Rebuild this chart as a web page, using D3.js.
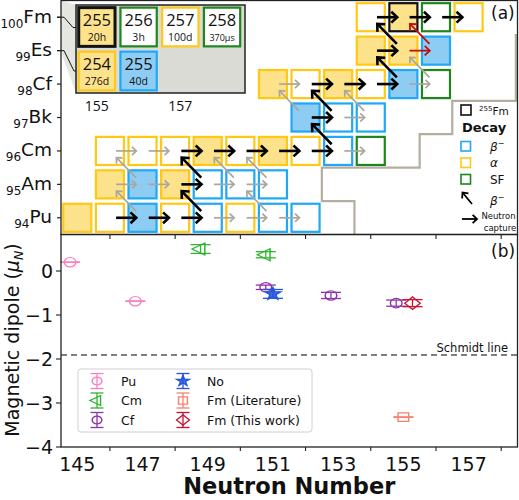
<!DOCTYPE html>
<html lang="en">
<head>
<meta charset="utf-8">
<title>Fm magnetic dipole</title>
<script src="https://d3js.org/d3.v7.min.js"></script>
<style>
  body { margin: 0; background: #fff; }
  svg text { font-family: "DejaVu Sans", sans-serif; fill: #111; }
</style>
</head>
<body>
<svg id="chart" width="519" height="500"></svg>
<script>
// ---------- panel (a) data ----------
const elements = ["Pu", "Am", "Cm", "Bk", "Cf", "Es", "Fm"];
const protonZ = [94, 95, 96, 97, 98, 99, 100];

// [Z, N, decay, filled]
const nuclides = [
  [94,145,"a",1],[94,146,"a",0],[94,147,"b",1],[94,148,"a",0],[94,149,"b",0],[94,150,"a",0],[94,151,"b",0],[94,152,"b",0],
  [95,146,"a",1],[95,147,"b",1],[95,148,"a",1],[95,149,"b",0],[95,150,"b",0],[95,151,"b",0],
  [96,146,"a",0],[96,147,"a",0],[96,148,"a",0],[96,149,"a",1],[96,150,"a",0],[96,151,"a",1],[96,152,"a",0],[96,153,"b",0],[96,154,"sf",0],
  [97,152,"b",1],[97,153,"b",0],[97,154,"b",0],
  [98,151,"a",1],[98,152,"a",0],[98,153,"a",1],[98,154,"a",0],[98,155,"b",1],[98,156,"sf",0],
  [99,154,"a",1],[99,155,"a",1],[99,156,"b",1],
  [100,154,"a",0],[100,155,"a",1],[100,156,"sf",0],[100,157,"a",0]
];

// neutron capture (Z, N -> N+1, colour key)
const captures = [
  [94,146,"k"],[94,147,"k"],[94,148,"k"],[94,149,"g"],[94,150,"g"],[94,151,"g"],
  [95,146,"g"],[95,147,"g"],[95,148,"k"],[95,149,"g"],[95,150,"g"],
  [96,146,"g"],[96,147,"g"],[96,148,"k"],[96,149,"k"],[96,150,"k"],[96,151,"k"],[96,152,"k"],[96,153,"g"],
  [97,152,"k"],[97,153,"g"],
  [98,151,"g"],[98,152,"k"],[98,153,"k"],[98,154,"k"],[98,155,"g"],
  [99,154,"k"],[99,155,"r"],
  [100,154,"k"],[100,155,"k"],[100,156,"k"]
];

// beta- decay (Z, N) -> (Z+1, N-1)
const betaDecays = [
  [94,147,"g"],[94,149,"k"],[94,151,"g"],
  [95,147,"g"],[95,149,"k"],[95,150,"g"],[95,151,"g"],
  [96,153,"k"],
  [97,152,"g"],[97,153,"k"],[97,154,"g"],
  [98,155,"k"],[98,156,"g"],
  [99,155,"k"],[99,156,"r"]
];

// boundary of known region
const boundaryN = [158.45, 158.45, 156.5, 156.5, 155.5, 155.5, 152.5, 152.5, 153.5, 153.5];
const boundaryZ = [99.5, 97.5, 97.5, 96.5, 96.5, 95.5, 95.5, 94.5, 94.5, 93.5];

// inset
const insetZ = [100, 100, 100, 100, 99, 99];
const insetN = [155, 156, 157, 158, 155, 156];
const insetMass = ["255", "256", "257", "258", "254", "255"];
const insetHalfLife = ["20h", "3h", "100d", "370μs", "276d", "40d"];
const insetDecay = ["a", "sf", "a", "sf", "a", "b"];
const insetFilled = [1, 0, 0, 0, 1, 1];
const insetTicks = [155, 157];

// ---------- panel (b) data ----------
const seriesNames = ["Pu", "Cm", "Cf", "No", "Fm (Literature)", "Fm (This work)"];
const puN = [145, 147], puMu = [0.20, -0.685], puErr = [0.005, 0.005];
const cmN = [149, 151], cmMu = [0.50, 0.37], cmErr = [0.10, 0.07];
const cfN = [151, 153, 155], cfMu = [-0.37, -0.555, -0.73], cfErr = [0.05, 0.07, 0.07];
const noN = [151], noMu = [-0.52], noErr = [0.10];
const fmLitN = [155], fmLitMu = [-3.32], fmLitErr = [0.005];
const fmNewN = [155], fmNewMu = [-0.73], fmNewErr = [0.08];
const schmidt = -1.91;
const xTickLabels = [145, 147, 149, 151, 153, 155, 157];
const yTickLabels = [0, -1, -2, -3, -4];

// ---------- styles ----------
const decayStroke = { a: "#ffc814", b: "#1ea8f5", sf: "#1d861d" };
const decayFill = { a: "#fde28c", b: "#8dcdf3", sf: "#ffffff" };
const arrowStyle = {
  k: { c: "#000", w: 2.6, h: 8 },
  g: { c: "#aaa69b", w: 1.7, h: 6 },
  r: { c: "#c00d0d", w: 1.8, h: 7 }
};
const seriesColors = ["#f781bf", "#2fb52f", "#8d33ad", "#2352dc", "#f8806e", "#cc1030"];
const seriesMarkers = ["circle", "triLeft", "circle", "star", "square", "diamond"];
const seriesShift = [-0.22, -0.22, -0.22, 0, 0, 0.28];
const seriesData = [
  [puN, puMu, puErr], [cmN, cmMu, cmErr], [cfN, cfMu, cfErr],
  [noN, noMu, noErr], [fmLitN, fmLitMu, fmLitErr], [fmNewN, fmNewMu, fmNewErr]
];

const svg = d3.select("#chart");

const x = d3.scaleLinear().domain([144.5, 158.5]).range([61, 517.5]);
const yTop = d3.scaleLinear().domain([93.5, 100.5]).range([234.5, 0.5]);
const yBot = d3.scaleLinear().domain([-4, 0.83]).range([447, 234.5]);

const bw = (x(1) - x(0)) * 0.86;
const bh = (yTop(0) - yTop(1)) * 0.84;

// ---------- panel (a) ----------
const panelA = svg.append("g");

panelA.selectAll("rect.nuc")
  .data(nuclides)
  .enter()
  .append("rect")
  .attr("class", "nuc")
  .attr("x", d => x(d[1]) - bw / 2)
  .attr("y", d => yTop(d[0]) - bh / 2)
  .attr("width", bw)
  .attr("height", bh)
  .attr("fill", d => d[3] ? decayFill[d[2]] : "#fff")
  .attr("stroke", d => (d[0] === 100 && d[1] === 155) ? "#111" : decayStroke[d[2]])
  .attr("stroke-width", 2.2);

function arrow(g, x1, y1, x2, y2, st) {
  const ang = Math.atan2(y2 - y1, x2 - x1);
  const a1 = ang + Math.PI - 0.75, a2 = ang + Math.PI + 0.75;
  g.append("line")
    .attr("x1", x1).attr("y1", y1).attr("x2", x2).attr("y2", y2)
    .attr("stroke", st.c).attr("stroke-width", st.w);
  g.append("path")
    .attr("d", `M${x2 + st.h * Math.cos(a1)},${y2 + st.h * Math.sin(a1)}L${x2},${y2}L${x2 + st.h * Math.cos(a2)},${y2 + st.h * Math.sin(a2)}`)
    .attr("fill", "none").attr("stroke", st.c).attr("stroke-width", st.w)
    .attr("stroke-linejoin", "miter");
}

function drawArrows(key) {
  captures.filter(d => d[2] === key).forEach(d => {
    const cy = yTop(d[0]);
    const xa = x(d[1]), xb = x(d[1] + 1), m = (xa + xb) / 2, hl = (xb - xa) * 0.31;
    arrow(panelA, m - hl, cy, m + hl, cy, arrowStyle[key]);
  });
  betaDecays.filter(d => d[2] === key).forEach(d => {
    const xa = x(d[1]), ya = yTop(d[0]), xb = x(d[1] - 1), yb = yTop(d[0] + 1);
    const mx = (xa + xb) / 2, my = (ya + yb) / 2;
    const f = 0.3;
    arrow(panelA, mx + (xa - xb) * f, my + (ya - yb) * f, mx - (xa - xb) * f, my - (ya - yb) * f, arrowStyle[key]);
  });
}
drawArrows("g");
drawArrows("k");
drawArrows("r");

// boundary line
panelA.append("path")
  .attr("d", d3.line()(boundaryN.map((n, i) => [x(n), yTop(boundaryZ[i])])))
  .attr("fill", "none")
  .attr("stroke", "#b3ae9f")
  .attr("stroke-width", 2.2);

// inset with connector
panelA.append("polygon")
  .attr("points", "61,0.5 76,5 76,93 61,52")
  .attr("fill", "#e6e6e1");
panelA.append("polyline")
  .attr("points", `57,${yTop(100)} 64,${yTop(100)} 73,27.5 77,27.5`)
  .attr("fill", "none").attr("stroke", "#111").attr("stroke-width", 1);
panelA.append("polyline")
  .attr("points", `57,${yTop(99)} 64,${yTop(99)} 74,71 77,71`)
  .attr("fill", "none").attr("stroke", "#111").attr("stroke-width", 1);

const xi = d3.scaleLinear().domain([154.5, 158.55]).range([76, 245]);
const yi = d3.scaleLinear().domain([98.5, 100.5]).range([93, 5]);
const ibw = (xi(1) - xi(0)) * 0.87;
const ibh = (yi(0) - yi(1)) * 0.88;

panelA.append("rect")
  .attr("x", 76).attr("y", 5).attr("width", 169).attr("height", 88)
  .attr("fill", "#dbdbd6").attr("stroke", "#222").attr("stroke-width", 1.5);

const cells = panelA.selectAll("g.icell")
  .data(insetMass.map((m, i) => i))
  .enter()
  .append("g")
  .attr("class", "icell")
  .attr("transform", i => `translate(${xi(insetN[i])},${yi(insetZ[i])})`);

cells.append("rect")
  .attr("x", -ibw / 2).attr("y", -ibh / 2)
  .attr("width", ibw).attr("height", ibh)
  .attr("fill", i => insetFilled[i] ? decayFill[insetDecay[i]] : "#fff")
  .attr("stroke", i => i === 0 ? "#111" : decayStroke[insetDecay[i]])
  .attr("stroke-width", i => i === 0 ? 3 : 2.2);

cells.append("text")
  .attr("text-anchor", "middle")
  .attr("y", -1)
  .style("font-family", "'Open Sans', 'DejaVu Sans', sans-serif")
  .style("font-size", "16.5px")
  .text(i => insetMass[i]);

cells.append("text")
  .attr("text-anchor", "middle")
  .attr("y", 14)
  .style("font-family", "'Open Sans', 'DejaVu Sans', sans-serif")
  .style("font-size", i => insetHalfLife[i].length > 4 ? "9px" : "10.5px")
  .text(i => insetHalfLife[i]);

panelA.selectAll("text.itick")
  .data(insetTicks)
  .enter()
  .append("text")
  .attr("class", "itick")
  .attr("x", d => xi(d))
  .attr("y", 111)
  .attr("text-anchor", "middle")
  .style("font-family", "'Open Sans', 'DejaVu Sans', sans-serif")
  .style("font-size", "14px")
  .text(d => d);

// y labels with proton numbers
panelA.selectAll("line.ytick")
  .data(protonZ)
  .enter()
  .append("line")
  .attr("x1", 57).attr("x2", 61)
  .attr("y1", d => yTop(d)).attr("y2", d => yTop(d))
  .attr("stroke", "#222").attr("stroke-width", 1.2);

const ylab = panelA.selectAll("text.ylab")
  .data(protonZ)
  .enter()
  .append("text")
  .attr("class", "ylab")
  .attr("x", 52)
  .attr("y", d => yTop(d) + 5.5)
  .attr("text-anchor", "end");
ylab.append("tspan")
  .attr("dy", 5)
  .style("font-size", "12px")
  .text(d => d);
ylab.append("tspan")
  .attr("dy", -5)
  .style("font-size", "18.5px")
  .text((d, i) => elements[i]);

// panel (a) legend
const lg = panelA.append("g");
lg.append("rect").attr("x", 461).attr("y", 105).attr("width", 10).attr("height", 10)
  .attr("fill", "#fff").attr("stroke", "#111").attr("stroke-width", 1.6);
const fmLab = lg.append("text").attr("x", 479).attr("y", 115);
fmLab.append("tspan").attr("dy", -4).style("font-size", "7px").text("255");
fmLab.append("tspan").attr("dy", 4).style("font-size", "10.5px").text("Fm");
lg.append("text").attr("x", 462).attr("y", 132)
  .style("font-size", "13px").style("font-weight", "bold").text("Decay");

const legendKeys = ["b", "a", "sf"];
const legendText = ["β", "α", "SF"];
legendKeys.forEach((k, i) => {
  const yy = 146 + i * 16.5;
  lg.append("rect").attr("x", 461).attr("y", yy - 4.5).attr("width", 9.5).attr("height", 9.5)
    .attr("fill", "#fff").attr("stroke", decayStroke[k]).attr("stroke-width", 1.6);
  const t = lg.append("text").attr("x", 490).attr("y", yy + 4.5).style("font-size", "12px");
  t.append("tspan").style("font-style", k === "sf" ? "normal" : "italic").text(legendText[i]);
  if (k === "b") t.append("tspan").attr("dy", -5).style("font-size", "8px").text("−");
});
arrow(lg, 472, 204, 462.5, 192.5, { c: "#000", w: 1.8, h: 6 });
const bl = lg.append("text").attr("x", 490).attr("y", 205).style("font-size", "12px");
bl.append("tspan").style("font-style", "italic").text("β");
bl.append("tspan").attr("dy", -5).style("font-size", "8px").text("−");
arrow(lg, 462, 219, 477, 219, { c: "#000", w: 1.8, h: 6 });
lg.append("text").attr("x", 498.5).attr("y", 218.5).attr("text-anchor", "middle")
  .style("font-size", "8.5px").text("Neutron");
lg.append("text").attr("x", 500).attr("y", 231).attr("text-anchor", "middle")
  .style("font-size", "8.5px").text("capture");

panelA.append("text").attr("x", 491).attr("y", 19).style("font-size", "17px").text("(a)");

// frame (a)
panelA.append("rect")
  .attr("x", 61).attr("y", 0.5).attr("width", x.range()[1] - 61).attr("height", 234)
  .attr("fill", "none").attr("stroke", "#222").attr("stroke-width", 1.3);

// ---------- panel (b) ----------
const panelB = svg.append("g");

const evenTicks = d3.range(146, 159, 2);
panelB.selectAll("line.xt1")
  .data(evenTicks)
  .enter()
  .append("line")
  .attr("x1", d => x(d)).attr("x2", d => x(d))
  .attr("y1", 234.5).attr("y2", 239)
  .attr("stroke", "#222").attr("stroke-width", 1.1);
panelB.selectAll("line.xt2")
  .data(evenTicks)
  .enter()
  .append("line")
  .attr("x1", d => x(d)).attr("x2", d => x(d))
  .attr("y1", 447).attr("y2", 451)
  .attr("stroke", "#222").attr("stroke-width", 1.1);

panelB.selectAll("text.xl")
  .data(xTickLabels)
  .enter()
  .append("text")
  .attr("x", d => x(d))
  .attr("y", 471)
  .attr("text-anchor", "middle")
  .style("font-size", "19px")
  .text(d => d);

panelB.selectAll("line.yt")
  .data(yTickLabels)
  .enter()
  .append("line")
  .attr("x1", 56).attr("x2", 61)
  .attr("y1", d => yBot(d)).attr("y2", d => yBot(d))
  .attr("stroke", "#222").attr("stroke-width", 1.1);

panelB.selectAll("text.yl")
  .data(yTickLabels)
  .enter()
  .append("text")
  .attr("x", 53)
  .attr("y", d => yBot(d) + 7)
  .attr("text-anchor", "end")
  .style("font-size", "19px")
  .text(d => d < 0 ? "−" + Math.abs(d) : d);

// schmidt line
panelB.append("line")
  .attr("x1", 61).attr("x2", x.range()[1])
  .attr("y1", yBot(schmidt)).attr("y2", yBot(schmidt))
  .attr("stroke", "#555").attr("stroke-width", 1.5)
  .attr("stroke-dasharray", "6,4");
panelB.append("text")
  .attr("x", 508).attr("y", yBot(schmidt) - 3.5)
  .attr("text-anchor", "end")
  .style("font-size", "11.5px")
  .text("Schmidt line");

function marker(g, type, cx, cy, color, scale) {
  const sym = {
    circle: [d3.symbolCircle, 85, 0],
    triLeft: [d3.symbolTriangle, 75, -90],
    star: [d3.symbolStar, 60, 0],
    square: [d3.symbolSquare, 90, 0],
    diamond: [d3.symbolSquare, 95, 45]
  }[type];
  g.append("path")
    .attr("d", d3.symbol().type(sym[0]).size(sym[1] * scale)())
    .attr("transform", `translate(${cx},${cy}) scale(1.12,0.9) rotate(${sym[2]})`)
    .attr("fill", type === "star" ? color : "none")
    .attr("fill-opacity", 0.85)
    .attr("stroke", color)
    .attr("stroke-width", 1.3);
}

function errbar(g, cx, y1, y2, cap, color) {
  g.append("line").attr("x1", cx).attr("x2", cx).attr("y1", y1).attr("y2", y2)
    .attr("stroke", color).attr("stroke-width", 1.3);
  [y1, y2].forEach(yy => g.append("line")
    .attr("x1", cx - cap).attr("x2", cx + cap).attr("y1", yy).attr("y2", yy)
    .attr("stroke", color).attr("stroke-width", 1.3));
}

seriesData.forEach((s, si) => {
  s[0].forEach((n, j) => {
    const cx = x(n + seriesShift[si]);
    errbar(panelB, cx, yBot(s[1][j] + s[2][j]), yBot(s[1][j] - s[2][j]), 10, seriesColors[si]);
    marker(panelB, seriesMarkers[si], cx, yBot(s[1][j]), seriesColors[si], 1);
  });
});

// legend (b)
const lb = panelB.append("g");
lb.append("rect")
  .attr("x", 78).attr("y", 369).attr("width", 234).attr("height", 63).attr("rx", 3)
  .attr("fill", "#fff").attr("stroke", "#d0d0d0").attr("stroke-width", 1);
seriesNames.forEach((name, i) => {
  const col = Math.floor(i / 3), row = i % 3;
  const mx = 97 + col * 86, my = 381 + row * 19.5;
  errbar(lb, mx, my - 7.5, my + 7.5, 6.5, seriesColors[i]);
  marker(lb, seriesMarkers[i], mx, my, seriesColors[i], 0.7);
  lb.append("text").attr("x", mx + 24).attr("y", my + 4.5)
    .style("font-size", "12.5px").text(name);
});

panelB.append("text").attr("x", 491).attr("y", 257).style("font-size", "17px").text("(b)");

// frame (b)
panelB.append("rect")
  .attr("x", 61).attr("y", 234.5).attr("width", x.range()[1] - 61).attr("height", 447 - 234.5)
  .attr("fill", "none").attr("stroke", "#222").attr("stroke-width", 1.3);

// axis titles
svg.append("text")
  .attr("x", x(151.5))
  .attr("y", 494)
  .attr("text-anchor", "middle")
  .style("font-size", "22.5px")
  .style("font-weight", "bold")
  .text("Neutron Number");

const yt = svg.append("text")
  .attr("transform", "translate(18.5,340) rotate(-90)")
  .attr("text-anchor", "middle")
  .style("font-size", "19px");
yt.append("tspan").text("Magnetic dipole (");
yt.append("tspan").style("font-style", "italic").text("μ");
yt.append("tspan").attr("dy", 4).style("font-size", "12.5px").style("font-style", "italic").text("N");
yt.append("tspan").attr("dy", -4).text(")");
</script>
</body>
</html>
